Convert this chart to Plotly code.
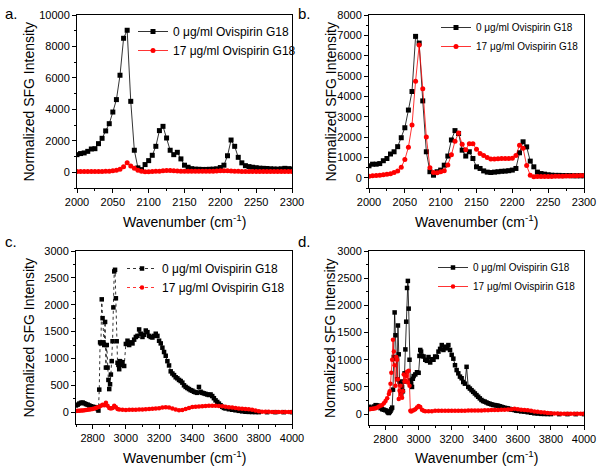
import plotly.graph_objects as go

FONT = "Arial, 'Liberation Sans', sans-serif"
W, H = 602, 472

# ---------------- Panel a / b (2000-2300 cm-1) ----------------
x_ab = [2000, 2005, 2010, 2015, 2020, 2025, 2030, 2035, 2040, 2045,
        2050, 2055, 2060, 2065, 2070, 2075, 2080, 2085, 2090, 2095,
        2100, 2105, 2110, 2115, 2120, 2125, 2130, 2135, 2140, 2145,
        2150, 2155, 2160, 2165, 2170, 2175, 2180, 2185, 2190, 2195,
        2200, 2205, 2210, 2215, 2220, 2225, 2230, 2235, 2240, 2245,
        2250, 2255, 2260, 2265, 2270, 2275, 2280, 2285, 2290, 2295, 2300]

a_black = [1120, 1190, 1230, 1330, 1480, 1500, 1820, 2160, 2630, 3090,
           3830, 4620, 6170, 8520, 9030, 4510, 1400, 280, 170, 490,
           740, 1080, 1650, 2650, 2920, 2180, 1400, 1120, 1270, 850,
           450, 320, 230, 200, 190, 180, 180, 190, 200, 220,
           300, 450, 1050, 2050, 1650, 950, 600, 420, 360, 320,
           290, 260, 250, 240, 220, 210, 200, 220, 250, 230, 210]
a_red = [50, 50, 50, 50, 50, 50, 50, 55, 60, 70,
         90, 130, 200, 350, 600, 400, 250, 130, 70, 40,
         40, 50, 60, 70, 100, 120, 110, 90, 80, 70,
         70, 70, 70, 70, 70, 60, 60, 60, 70, 80,
         90, 100, 90, 80, 70, 60, 50, 50, 50, 50,
         50, 50, 50, 50, 50, 50, 50, 50, 50, 50, 50]

b_black = [590, 670, 670, 700, 840, 950, 1170, 1280, 1530, 1970,
           2460, 3330, 4240, 6950, 6620, 3780, 1280, 300, 130, 300,
           380, 620, 1070, 1860, 2320, 2180, 1360, 1070, 1280, 950,
           540, 460, 340, 280, 260, 280, 300, 320, 330, 350,
           380, 460, 1230, 1770, 1520, 820, 540, 280, 210, 180,
           150, 130, 120, 120, 110, 110, 110, 100, 100, 100, 100]
b_red = [80, 100, 110, 130, 150, 180, 200, 260, 330, 520,
         900, 1500, 2600, 4750, 6520, 4380, 2000, 500, 260, 250,
         300, 350, 630, 1130, 1800, 2200, 1650, 1380, 1680, 1680,
         1400, 1200, 1100, 1000, 920, 930, 940, 950, 950, 950,
         960, 1100, 1600, 1450, 600, 130, 50, 60, 70, 70,
         70, 70, 80, 80, 80, 90, 90, 100, 100, 110, 110]

# ---------------- Panel c (2700-4000 cm-1) ----------------
c_black_x = [2700, 2710, 2720, 2730, 2740, 2750, 2760, 2770, 2780, 2790,
             2800, 2810, 2820, 2830, 2835, 2840, 2845, 2850, 2855, 2860,
             2865, 2870, 2875, 2880, 2885, 2890, 2895, 2900, 2905, 2910,
             2915, 2920, 2925, 2930, 2935, 2940, 2945, 2950, 2955, 2960,
             2965, 2970, 2980, 2990, 3000, 3010, 3020, 3030, 3040, 3050,
             3060, 3070, 3080, 3090, 3100, 3110, 3120, 3130, 3140, 3150,
             3160, 3170, 3180, 3190, 3200, 3210, 3220, 3230, 3240, 3250,
             3260, 3270, 3280, 3290, 3300, 3310, 3320, 3330, 3340, 3350,
             3360, 3370, 3380, 3390, 3400, 3410, 3420, 3430, 3440, 3450,
             3460, 3470, 3480, 3490, 3500, 3510, 3520, 3530, 3540, 3550,
             3560, 3570, 3580, 3590, 3600, 3620, 3640, 3660, 3680, 3700,
             3720, 3740, 3760, 3780, 3800, 3850, 3900, 3950, 4000]
c_black_y = [125, 140, 160, 175, 180, 165, 150, 140, 125, 110,
             100, 95, 90, 60, 30, 420, 1300, 1280, 2100, 1750,
             1300, 1250, 1680, 830, 1250, 830, 600, 430, 520, 700,
             950, 1320, 1950, 2620, 2650, 2120, 1320, 920, 880, 800,
             950, 880, 930, 860, 1270, 1330, 1250, 1300, 1280, 1350,
             1400, 1420, 1540, 1460, 1400, 1440, 1520, 1490, 1420, 1400,
             1390, 1420, 1460, 1420, 1330, 1280, 1200, 1120, 1050, 950,
             870, 760, 720, 690, 650, 630, 600, 580, 550, 500,
             470, 450, 430, 410, 400, 380, 370, 360, 470, 380,
             360, 350, 340, 330, 320, 330, 300, 260, 220, 190,
             160, 130, 100, 80, 70, 55, 45, 35, 25, 15,
             8, 5, 3, 2, 1, 0, 0, 0, 0]
c_red_x = [2700, 2710, 2720, 2730, 2740, 2750, 2760, 2770, 2780, 2790,
           2800, 2810, 2820, 2830, 2840, 2850, 2860, 2870, 2880, 2890,
           2900, 2910, 2920, 2930, 2940, 2950, 2960, 2980, 3000, 3020,
           3040, 3060, 3080, 3100, 3120, 3140, 3160, 3180, 3200, 3220,
           3240, 3260, 3280, 3300, 3320, 3340, 3360, 3380, 3400, 3420,
           3440, 3460, 3480, 3500, 3520, 3540, 3560, 3580, 3600, 3620,
           3640, 3660, 3680, 3700, 3720, 3740, 3760, 3780, 3800, 3820,
           3840, 3860, 3880, 3900, 3920, 3940, 3960, 3980, 4000]
c_red_y = [20, 25, 25, 30, 30, 35, 40, 45, 50, 55,
           60, 70, 80, 90, 100, 120, 140, 130, 175, 120,
           80, 70, 80, 120, 90, 60, 50, 45, 40, 45,
           45, 45, 50, 50, 55, 60, 65, 70, 75, 85,
           90, 85, 70, 50, 35, 40, 60, 80, 95, 100,
           105, 110, 115, 120, 120, 120, 115, 110, 100, 90,
           85, 80, 70, 65, 60, 55, 45, 30, 15, 10,
           8, 6, 5, 5, 5, 5, 5, 5, 5]

# ---------------- Panel d (2700-4000 cm-1) ----------------
d_black_x = [2700, 2710, 2720, 2730, 2740, 2750, 2760, 2770, 2780, 2790,
             2800, 2810, 2815, 2820, 2825, 2830, 2835, 2840, 2845, 2850,
             2855, 2860, 2865, 2870, 2875, 2880, 2885, 2890, 2895, 2900,
             2905, 2910, 2915, 2920, 2925, 2930, 2935, 2940, 2945, 2950,
             2955, 2960, 2965, 2970, 2980, 2990, 3000, 3005, 3010, 3015,
             3020, 3030, 3040, 3050, 3060, 3070, 3080, 3090, 3100, 3110,
             3120, 3130, 3140, 3150, 3160, 3170, 3180, 3190, 3200, 3210,
             3220, 3230, 3240, 3250, 3260, 3270, 3280, 3290, 3300, 3310,
             3320, 3330, 3340, 3350, 3360, 3370, 3380, 3390, 3400, 3410,
             3420, 3430, 3440, 3450, 3460, 3470, 3480, 3490, 3500, 3510,
             3520, 3530, 3540, 3550, 3560, 3570, 3580, 3590, 3600, 3620,
             3640, 3660, 3680, 3700, 3720, 3740, 3760, 3780, 3800, 3850,
             3900, 3950, 4000]
d_black_y = [135, 120, 110, 140, 165, 160, 150, 110, 90, 80,
             70, 50, 30, 20, 40, 60, 90, 120, 450, 1050,
             1870, 1450, 1020, 640, 1630, 1100, 600, 550, 380, 500,
             420, 600, 750, 1190, 1700, 2320, 2450, 1940, 1000, 620,
             560, 500, 650, 700, 730, 770, 760, 1070, 1180, 1150,
             1070, 1060, 1000, 980, 1050, 950, 1010, 1000, 1060, 1050,
             1150, 1200, 1270, 1180, 1240, 1210, 1270, 1180, 1090, 1020,
             900, 810, 750, 690, 660, 590, 560, 870, 500, 470,
             440, 410, 380, 350, 320, 290, 260, 240, 230, 215,
             200, 190, 180, 170, 165, 160, 155, 145, 135, 125,
             115, 110, 105, 95, 85, 80, 75, 65, 60, 50,
             45, 35, 25, 15, 10, 5, 3, 2, 1, 0,
             0, 0, 0]
d_red_x = [2700, 2710, 2720, 2730, 2740, 2750, 2760, 2770, 2780, 2790,
           2800, 2810, 2820, 2825, 2830, 2835, 2840, 2845, 2850, 2855,
           2860, 2865, 2870, 2875, 2880, 2885, 2890, 2895, 2900, 2905,
           2910, 2915, 2920, 2925, 2930, 2935, 2940, 2945, 2950, 2955,
           2960, 2970, 2980, 2990, 3000, 3010, 3020, 3030,
           3040, 3060, 3080, 3100, 3120, 3140, 3160, 3180, 3200, 3220,
           3240, 3260, 3280, 3300, 3320, 3340, 3360, 3380, 3400, 3420,
           3440, 3460, 3480, 3500, 3520, 3540, 3560, 3580, 3600, 3620,
           3640, 3660, 3680, 3700, 3720, 3740, 3760, 3780, 3800, 3820,
           3840, 3860, 3880, 3900, 3920, 3940, 3960, 3980, 4000]
d_red_y = [90, 95, 100, 105, 110, 120, 140, 155, 170, 200,
           240, 290, 370, 420, 560, 760, 1000, 1370, 1150, 900,
           520, 1050, 1000, 640, 280, 430, 520, 350, 300, 420,
           730, 600, 620, 700, 780, 580, 800, 520, 60, 50,
           60, 70, 90, 120, 150, 130, 80, 60,
           55, 55, 55, 60, 60, 60, 60, 60, 60, 60,
           60, 60, 62, 65, 65, 65, 65, 68, 70, 72,
           75, 75, 78, 80, 82, 85, 90, 100, 90, 80,
           75, 70, 60, 50, 45, 35, 30, 20, 15, 12,
           10, 8, 6, 5, 5, 5, 5, 5, 5]

for xs, ys in [(x_ab, a_black), (x_ab, a_red), (x_ab, b_black), (x_ab, b_red),
               (c_black_x, c_black_y), (c_red_x, c_red_y),
               (d_black_x, d_black_y), (d_red_x, d_red_y)]:
    assert len(xs) == len(ys)

LABEL_0 = "0 \u03bcg/ml Ovispirin G18"
LABEL_17 = "17 \u03bcg/ml Ovispirin G18"
Y_TITLE = "Normalized SFG Intensity"
X_TITLE = "Wavenumber (cm<sup>-1</sup>)"

# panel geometry in pixels (left, right, top, bottom)
panels = {
    "a": dict(px=(77, 292), py=(15, 188), xr=[2000, 2300], xd=50, xm=25, x0=2000,
              yr=[-1000, 10000], yd=2000, ym=1000, lf=12),
    "b": dict(px=(369, 584), py=(15, 188), xr=[2000, 2300], xd=50, xm=25, x0=2000,
              yr=[-500, 8000], yd=1000, ym=500, lf=10),
    "c": dict(px=(76, 292), py=(251, 424), xr=[2700, 4000], xd=200, xm=100, x0=2800,
              yr=[-220, 3000], yd=500, ym=250, lf=12),
    "d": dict(px=(369, 584), py=(251, 425), xr=[2700, 4000], xd=200, xm=100, x0=2800,
              yr=[-200, 3000], yd=500, ym=250, lf=10),
}
data = {
    "a": ((x_ab, a_black), (x_ab, a_red), "solid"),
    "b": ((x_ab, b_black), (x_ab, b_red), "solid"),
    "c": ((c_black_x, c_black_y), (c_red_x, c_red_y), "dot"),
    "d": ((d_black_x, d_black_y), (d_red_x, d_red_y), "solid"),
}
legend_pos = {"a": (133, 17), "b": (436, 13), "c": (122, 254), "d": (433, 253)}

fig = go.Figure()
layout = dict(width=W, height=H, margin=dict(l=0, r=0, t=0, b=0, pad=0, autoexpand=False),
              paper_bgcolor="white", plot_bgcolor="white",
              font=dict(family=FONT, color="black"), annotations=[])

for i, key in enumerate(["a", "b", "c", "d"]):
    p = panels[key]
    n = "" if i == 0 else str(i + 1)
    (bx, by), (rx, ry), dash = data[key]
    leg = "legend" if i == 0 else "legend" + str(i + 1)
    msize = 5 if key in ("a", "b") else 4.5
    fig.add_trace(go.Scatter(x=bx, y=by, mode="lines+markers", name=LABEL_0,
                             xaxis="x" + n, yaxis="y" + n, legend=leg,
                             line=dict(color="black", width=0.8, dash=dash),
                             marker=dict(symbol="square", size=msize, color="black")))
    fig.add_trace(go.Scatter(x=rx, y=ry, mode="lines+markers", name=LABEL_17,
                             xaxis="x" + n, yaxis="y" + n, legend=leg,
                             line=dict(color="red", width=0.8, dash=dash),
                             marker=dict(symbol="circle", size=msize, color="red")))
    xdom = [p["px"][0] / W, p["px"][1] / W]
    ydom = [1 - p["py"][1] / H, 1 - p["py"][0] / H]
    axcommon = dict(showline=True, linecolor="black", linewidth=1, mirror=True,
                    ticks="outside", ticklen=4, tickwidth=1, tickcolor="black",
                    showgrid=False, zeroline=False, automargin=False,
                    tickformat="d", exponentformat="none",
                    tickfont=dict(family=FONT, size=11, color="black"))
    layout["xaxis" + n] = dict(axcommon, domain=xdom, anchor="y" + n, range=p["xr"],
                               tick0=p["x0"], dtick=p["xd"],
                               minor=dict(dtick=p["xm"], tick0=p["xr"][0], ticklen=2,
                                          ticks="outside", tickcolor="black", showgrid=False))
    layout["yaxis" + n] = dict(axcommon, domain=ydom, anchor="x" + n, range=p["yr"],
                               tick0=0, dtick=p["yd"],
                               minor=dict(dtick=p["ym"], tick0=0, ticklen=2,
                                          ticks="outside", tickcolor="black", showgrid=False))
    lx, ly = legend_pos[key]
    layout[leg] = dict(x=lx / W, y=1 - ly / H, xanchor="left", yanchor="top",
                       bgcolor="rgba(0,0,0,0)", borderwidth=0,
                       font=dict(family=FONT, size=p["lf"], color="black"),
                       itemwidth=30, tracegroupgap=0)
    # panel label
    lab_x = 3 if key in ("a", "c") else 296
    lab_y = 13 if key in ("a", "b") else 242
    layout["annotations"].append(dict(text=key + ".", x=lab_x / W, y=1 - lab_y / H,
                                      xref="paper", yref="paper", xanchor="left",
                                      yanchor="middle", showarrow=False,
                                      font=dict(family=FONT, size=15, color="black")))
    # axis titles
    ytx = 28 if key in ("a", "c") else 330
    cy = (p["py"][0] + p["py"][1]) / 2
    layout["annotations"].append(dict(text=Y_TITLE, x=ytx / W, y=1 - cy / H,
                                      xref="paper", yref="paper", textangle=-90,
                                      xanchor="center", yanchor="middle", showarrow=False,
                                      font=dict(family=FONT, size=14, color="black")))
    cx = (p["px"][0] + p["px"][1]) / 2
    xty = 221 if key in ("a", "b") else 457
    layout["annotations"].append(dict(text=X_TITLE, x=cx / W, y=1 - xty / H,
                                      xref="paper", yref="paper",
                                      xanchor="center", yanchor="middle", showarrow=False,
                                      font=dict(family=FONT, size=14, color="black")))

fig.update_layout(**layout)
fig.write_html("out.html", config={"displayModeBar": False},
               post_script="document.body.style.margin='0';document.body.style.overflow='hidden';")
